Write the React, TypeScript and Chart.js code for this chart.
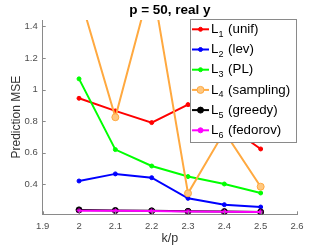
import React, { useEffect, useRef } from "react";
import { Chart, registerables } from "chart.js";

Chart.register(...registerables);

const kOverP = [2, 2.1, 2.2, 2.3, 2.4, 2.5];
const unif = [0.945, 0.865, 0.791, 0.905, 0.787, 0.624];
const lev = [0.421, 0.466, 0.442, 0.311, 0.271, 0.256];
const pl = [1.068, 0.62, 0.516, 0.449, 0.402, 0.345];
const sampling = [1.61, 0.825, 1.69, 0.343, 0.734, 0.385];
const greedy = [0.238, 0.234, 0.232, 0.229, 0.227, 0.225];
const fedorov = [0.233, 0.232, 0.231, 0.228, 0.226, 0.225];

const xTicks = [1.9, 2, 2.1, 2.2, 2.3, 2.4, 2.5, 2.6];
const yTicks = [0.4, 0.6, 0.8, 1, 1.2, 1.4];

const titleText = "p = 50, real y";
const xLabel = "k/p";
const yLabel = "Prediction MSE";

const seriesNames = [
  { sub: "1", name: "(unif)" },
  { sub: "2", name: "(lev)" },
  { sub: "3", name: "(PL)" },
  { sub: "4", name: "(sampling)" },
  { sub: "5", name: "(greedy)" },
  { sub: "6", name: "(fedorov)" },
];
const seriesValues = [unif, lev, pl, sampling, greedy, fedorov];
const colors = ["#ff0000", "#0000ff", "#00ff00", "#ffa940", "#000000", "#ff00ff"];
const fills = ["#ff0000", "#0000ff", "#00ff00", "#ffc880", "#000000", "#ff00ff"];
const radii = [2, 2, 2, 3.5, 3, 2.5];
const styles: any[] = ["circle", "circle", "circle", "circle", "circle", "star"];

const FONT = "'Liberation Sans', Arial, Helvetica, sans-serif";

const decorPlugin = {
  id: "decor",
  afterDraw(chart: any) {
    const ctx = chart.ctx as CanvasRenderingContext2D;
    const area = chart.chartArea;
    const xs = chart.scales.x;
    const ys = chart.scales.y;
    ctx.save();
    // inward ticks
    ctx.strokeStyle = "#8a8a8a";
    ctx.lineWidth = 1;
    ctx.beginPath();
    for (const v of xTicks) {
      const px = Math.round(xs.getPixelForValue(v)) + 0.5;
      ctx.moveTo(px, area.bottom);
      ctx.lineTo(px, area.bottom - 3);
    }
    for (const v of yTicks) {
      const py = Math.round(ys.getPixelForValue(v)) + 0.5;
      ctx.moveTo(area.left, py);
      ctx.lineTo(area.left + 3, py);
    }
    ctx.stroke();

    // title
    ctx.fillStyle = "#000";
    ctx.font = `bold 13.5px ${FONT}`;
    ctx.textAlign = "center";
    ctx.textBaseline = "middle";
    ctx.fillText(titleText, (area.left + area.right) / 2, 10);

    // legend box
    const bx = 190.5, by = 19.5, bw = 106, bh = 123;
    ctx.fillStyle = "#ffffff";
    ctx.fillRect(bx, by, bw, bh);
    ctx.strokeStyle = "#8a8a8a";
    ctx.lineWidth = 1;
    ctx.strokeRect(bx, by, bw, bh);

    const y0 = 29.3;
    const step = 20.2;
    for (let i = 0; i < seriesNames.length; i++) {
      const y = y0 + i * step;
      ctx.strokeStyle = colors[i];
      ctx.lineWidth = 2;
      ctx.beginPath();
      ctx.moveTo(192, y);
      ctx.lineTo(209, y);
      ctx.stroke();
      // marker
      ctx.fillStyle = fills[i];
      ctx.strokeStyle = colors[i];
      ctx.lineWidth = 1;
      ctx.beginPath();
      ctx.arc(200.5, y, radii[i], 0, Math.PI * 2);
      ctx.fill();
      ctx.stroke();
      // text
      ctx.fillStyle = "#000";
      ctx.textAlign = "left";
      ctx.textBaseline = "middle";
      ctx.font = `13.3px ${FONT}`;
      ctx.fillText("L", 211, y);
      const lw = ctx.measureText("L").width;
      ctx.font = `9px ${FONT}`;
      ctx.fillText(seriesNames[i].sub, 211 + lw, y + 5);
      const sw = ctx.measureText(seriesNames[i].sub).width;
      ctx.font = `13.3px ${FONT}`;
      ctx.fillText(" " + seriesNames[i].name, 211 + lw + sw + 1, y);
    }
    ctx.restore();
  },
};

export default function App() {
  const ref = useRef<HTMLCanvasElement>(null);
  useEffect(() => {
    if (!ref.current) return;
    const datasets = seriesValues.map((vals, i) => ({
      label: "L" + seriesNames[i].sub + " " + seriesNames[i].name,
      data: kOverP.map((x, j) => ({ x, y: vals[j] })),
      borderColor: colors[i],
      backgroundColor: fills[i],
      pointBackgroundColor: fills[i],
      pointBorderColor: colors[i],
      pointRadius: radii[i],
      pointStyle: styles[i],
      pointBorderWidth: 1,
      borderWidth: 2,
      order: 6 - i,
      tension: 0,
    }));
    const chart = new Chart(ref.current, {
      type: "line",
      data: { datasets },
      options: {
        animation: false,
        responsive: false,
        events: [],
        layout: { padding: { top: 20, right: 30, left: 0, bottom: 0 } },
        plugins: {
          legend: { display: false },
          tooltip: { enabled: false },
          title: { display: false },
        },
        scales: {
          x: {
            type: "linear",
            min: 1.9,
            max: 2.6,
            afterBuildTicks: (s: any) => {
              s.ticks = xTicks.map((v) => ({ value: v }));
            },
            afterFit: (s: any) => {
              s.height = 30.7;
            },
            grid: { display: false, drawTicks: false },
            border: { display: true, color: "#8a8a8a", width: 1 },
            ticks: {
              color: "#4d4d4d",
              font: { size: 9.5, family: FONT },
              padding: 6,
              maxRotation: 0,
              autoSkip: false,
              callback: (v: any) => String(Math.round(Number(v) * 10) / 10),
            },
            title: {
              display: true,
              text: xLabel,
              color: "#333",
              font: { size: 12.5, family: FONT, lineHeight: 1 },
              padding: { top: 0, bottom: 0 },
            },
          },
          y: {
            type: "linear",
            min: 0.21,
            max: 1.441,
            afterBuildTicks: (s: any) => {
              s.ticks = yTicks.map((v) => ({ value: v }));
            },
            afterFit: (s: any) => {
              s.width = 42.7;
            },
            grid: { display: false, drawTicks: false },
            border: { display: true, color: "#8a8a8a", width: 1 },
            ticks: {
              color: "#4d4d4d",
              font: { size: 9.5, family: FONT },
              padding: 5,
              autoSkip: false,
              callback: (v: any) => String(Math.round(Number(v) * 10) / 10),
            },
            title: {
              display: true,
              text: yLabel,
              color: "#333",
              font: { size: 12, family: FONT },
              padding: { top: 9, bottom: 0 },
            },
          },
        },
      },
      plugins: [decorPlugin],
    });
    return () => chart.destroy();
  }, []);
  return (
    <div style={{ position: "fixed", left: 0, top: 0, width: 327, height: 245, background: "#fff" }}>
      <canvas ref={ref} width={327} height={245} style={{ display: "block", width: 327, height: 245 }} />
    </div>
  );
}
